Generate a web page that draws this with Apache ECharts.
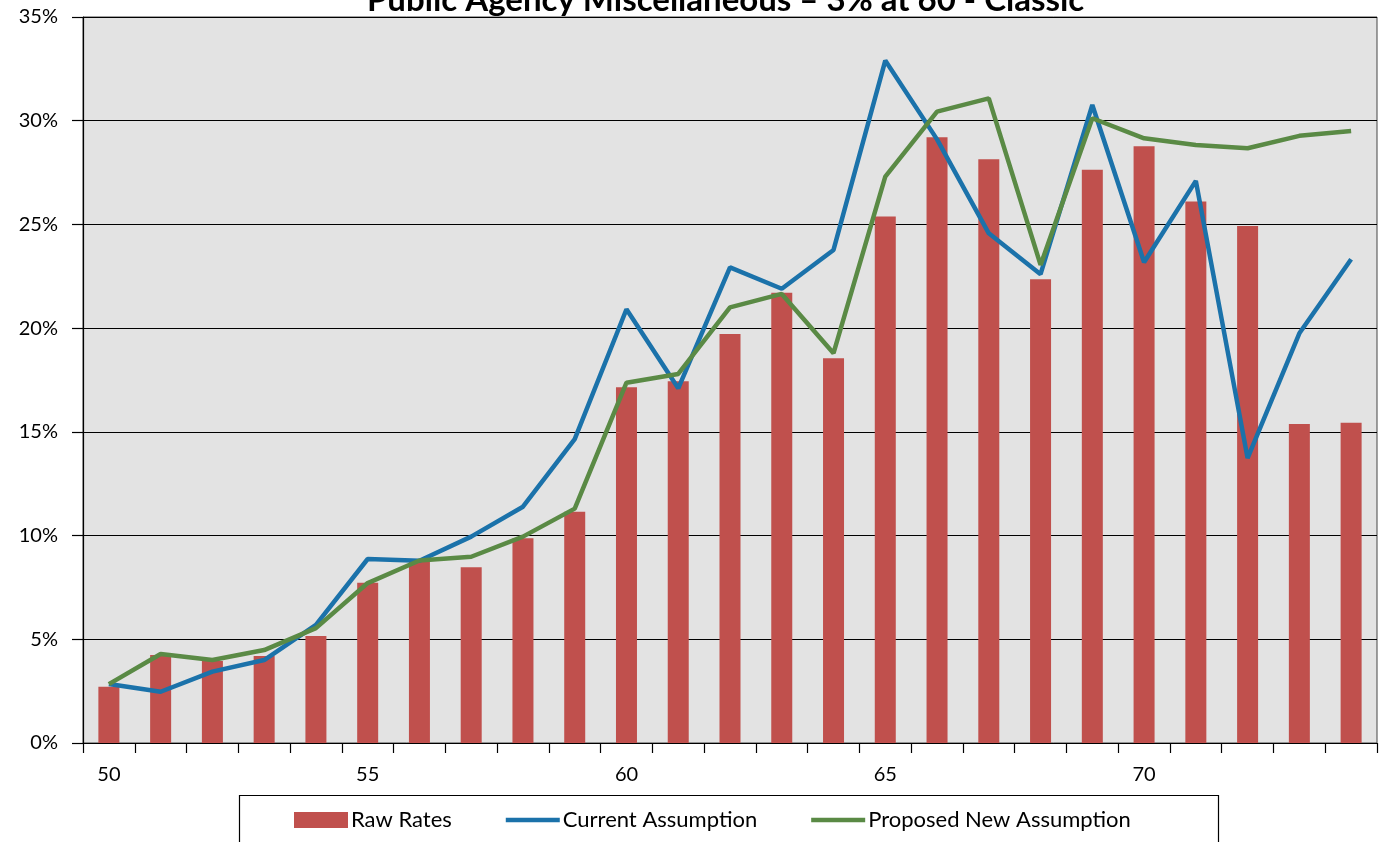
<!DOCTYPE html>
<html>
<head>
<meta charset="utf-8">
<script src="https://cdn.jsdelivr.net/npm/echarts@6/dist/echarts.min.js"></script>
<style>html,body{margin:0;padding:0;background:#fff}#c{width:1385px;height:842px}</style>
</head>
<body>
<div id="c"></div>
<script>
const titleText = 'Public Agency Miscellaneous – 3% at 60 - Classic';
const ages = ['50','51','52','53','54','55','56','57','58','59','60','61','62','63','64','65','66','67','68','69','70','71','72','73','74'];
const rawRates = [2.71,4.24,3.95,4.2,5.16,7.73,8.8,8.47,9.87,11.15,17.15,17.44,19.72,21.71,18.55,25.38,29.2,28.14,22.36,27.63,28.77,26.1,24.93,15.38,15.44];
const currentAssumption = [2.84,2.47,3.44,4.0,5.69,8.87,8.79,9.95,11.39,14.65,20.91,17.1,22.93,21.9,23.77,32.9,29.1,24.57,22.6,30.76,23.18,27.1,13.73,19.75,23.32];
const proposedAssumption = [2.84,4.29,4.0,4.48,5.54,7.71,8.8,8.98,9.95,11.3,17.37,17.79,21.0,21.65,18.79,27.3,30.44,31.08,23.05,30.12,29.15,28.83,28.67,29.27,29.5];
const seriesNames = ['Raw Rates','Current Assumption','Proposed New Assumption'];

const font = 'Lato, "Open Sans", sans-serif';
const lineIcon = 'path://M0,0 L50,0 L50,4 L0,4 Z';
const chart = echarts.init(document.getElementById('c'), null, {renderer:'canvas'});
chart.setOption({
  animation: false,
  backgroundColor: '#ffffff',
  title: {
    text: titleText,
    left: 362,
    top: -21,
    textStyle: {fontFamily: font, fontSize: 33, fontWeight: 'bold', color: '#000'}
  },
  grid: {
    left: 83, right: 8, top: 17, bottom: 99,
    show: true, backgroundColor: '#e3e3e3', borderColor: '#444', borderWidth: 1
  },
  graphic: [{
    type: 'rect', left: 237, top: 793,
    shape: {width: 979, height: 60},
    style: {fill: 'none', stroke: '#000', lineWidth: 1.2}
  }],
  legend: {
    left: 289, top: 804,
    itemWidth: 54, itemHeight: 16, itemGap: 54,
    symbolKeepAspect: true,
    textStyle: {fontFamily: font, fontSize: 22, color: '#000', padding: [0,0,0,-2]},
    data: [
      {name: seriesNames[0], icon: 'rect'},
      {name: seriesNames[1], icon: lineIcon},
      {name: seriesNames[2], icon: lineIcon}
    ]
  },
  xAxis: {
    type: 'category',
    data: ages,
    boundaryGap: true,
    axisLine: {lineStyle: {color: '#000', width: 1.2}},
    axisTick: {show: true, interval: 0, length: 10, lineStyle: {color: '#000', width: 1.2}},
    axisLabel: {interval: 4, margin: 22, fontFamily: font, fontSize: 20, color: '#000'},
    splitLine: {show: false}
  },
  yAxis: {
    type: 'value',
    min: 0, max: 35, interval: 5,
    axisLine: {show: true, lineStyle: {color: '#000', width: 1.2}},
    axisTick: {show: true, length: 11, lineStyle: {color: '#000', width: 1.2}},
    axisLabel: {formatter: '{value}%', margin: 25, fontFamily: font, fontSize: 20, color: '#000'},
    splitLine: {show: true, lineStyle: {color: '#000', width: 1.2}}
  },
  series: [
    {
      name: seriesNames[0], type: 'bar', data: rawRates,
      barWidth: 21,
      itemStyle: {color: '#C0504D'}
    },
    {
      name: seriesNames[1], type: 'line', data: currentAssumption,
      symbol: 'none', lineStyle: {color: '#1B72AA', width: 4.5}, itemStyle: {color: '#1B72AA'}
    },
    {
      name: seriesNames[2], type: 'line', data: proposedAssumption,
      symbol: 'none', lineStyle: {color: '#5A8A45', width: 4.5}, itemStyle: {color: '#5A8A45'}
    }
  ]
});
</script>
</body>
</html>
